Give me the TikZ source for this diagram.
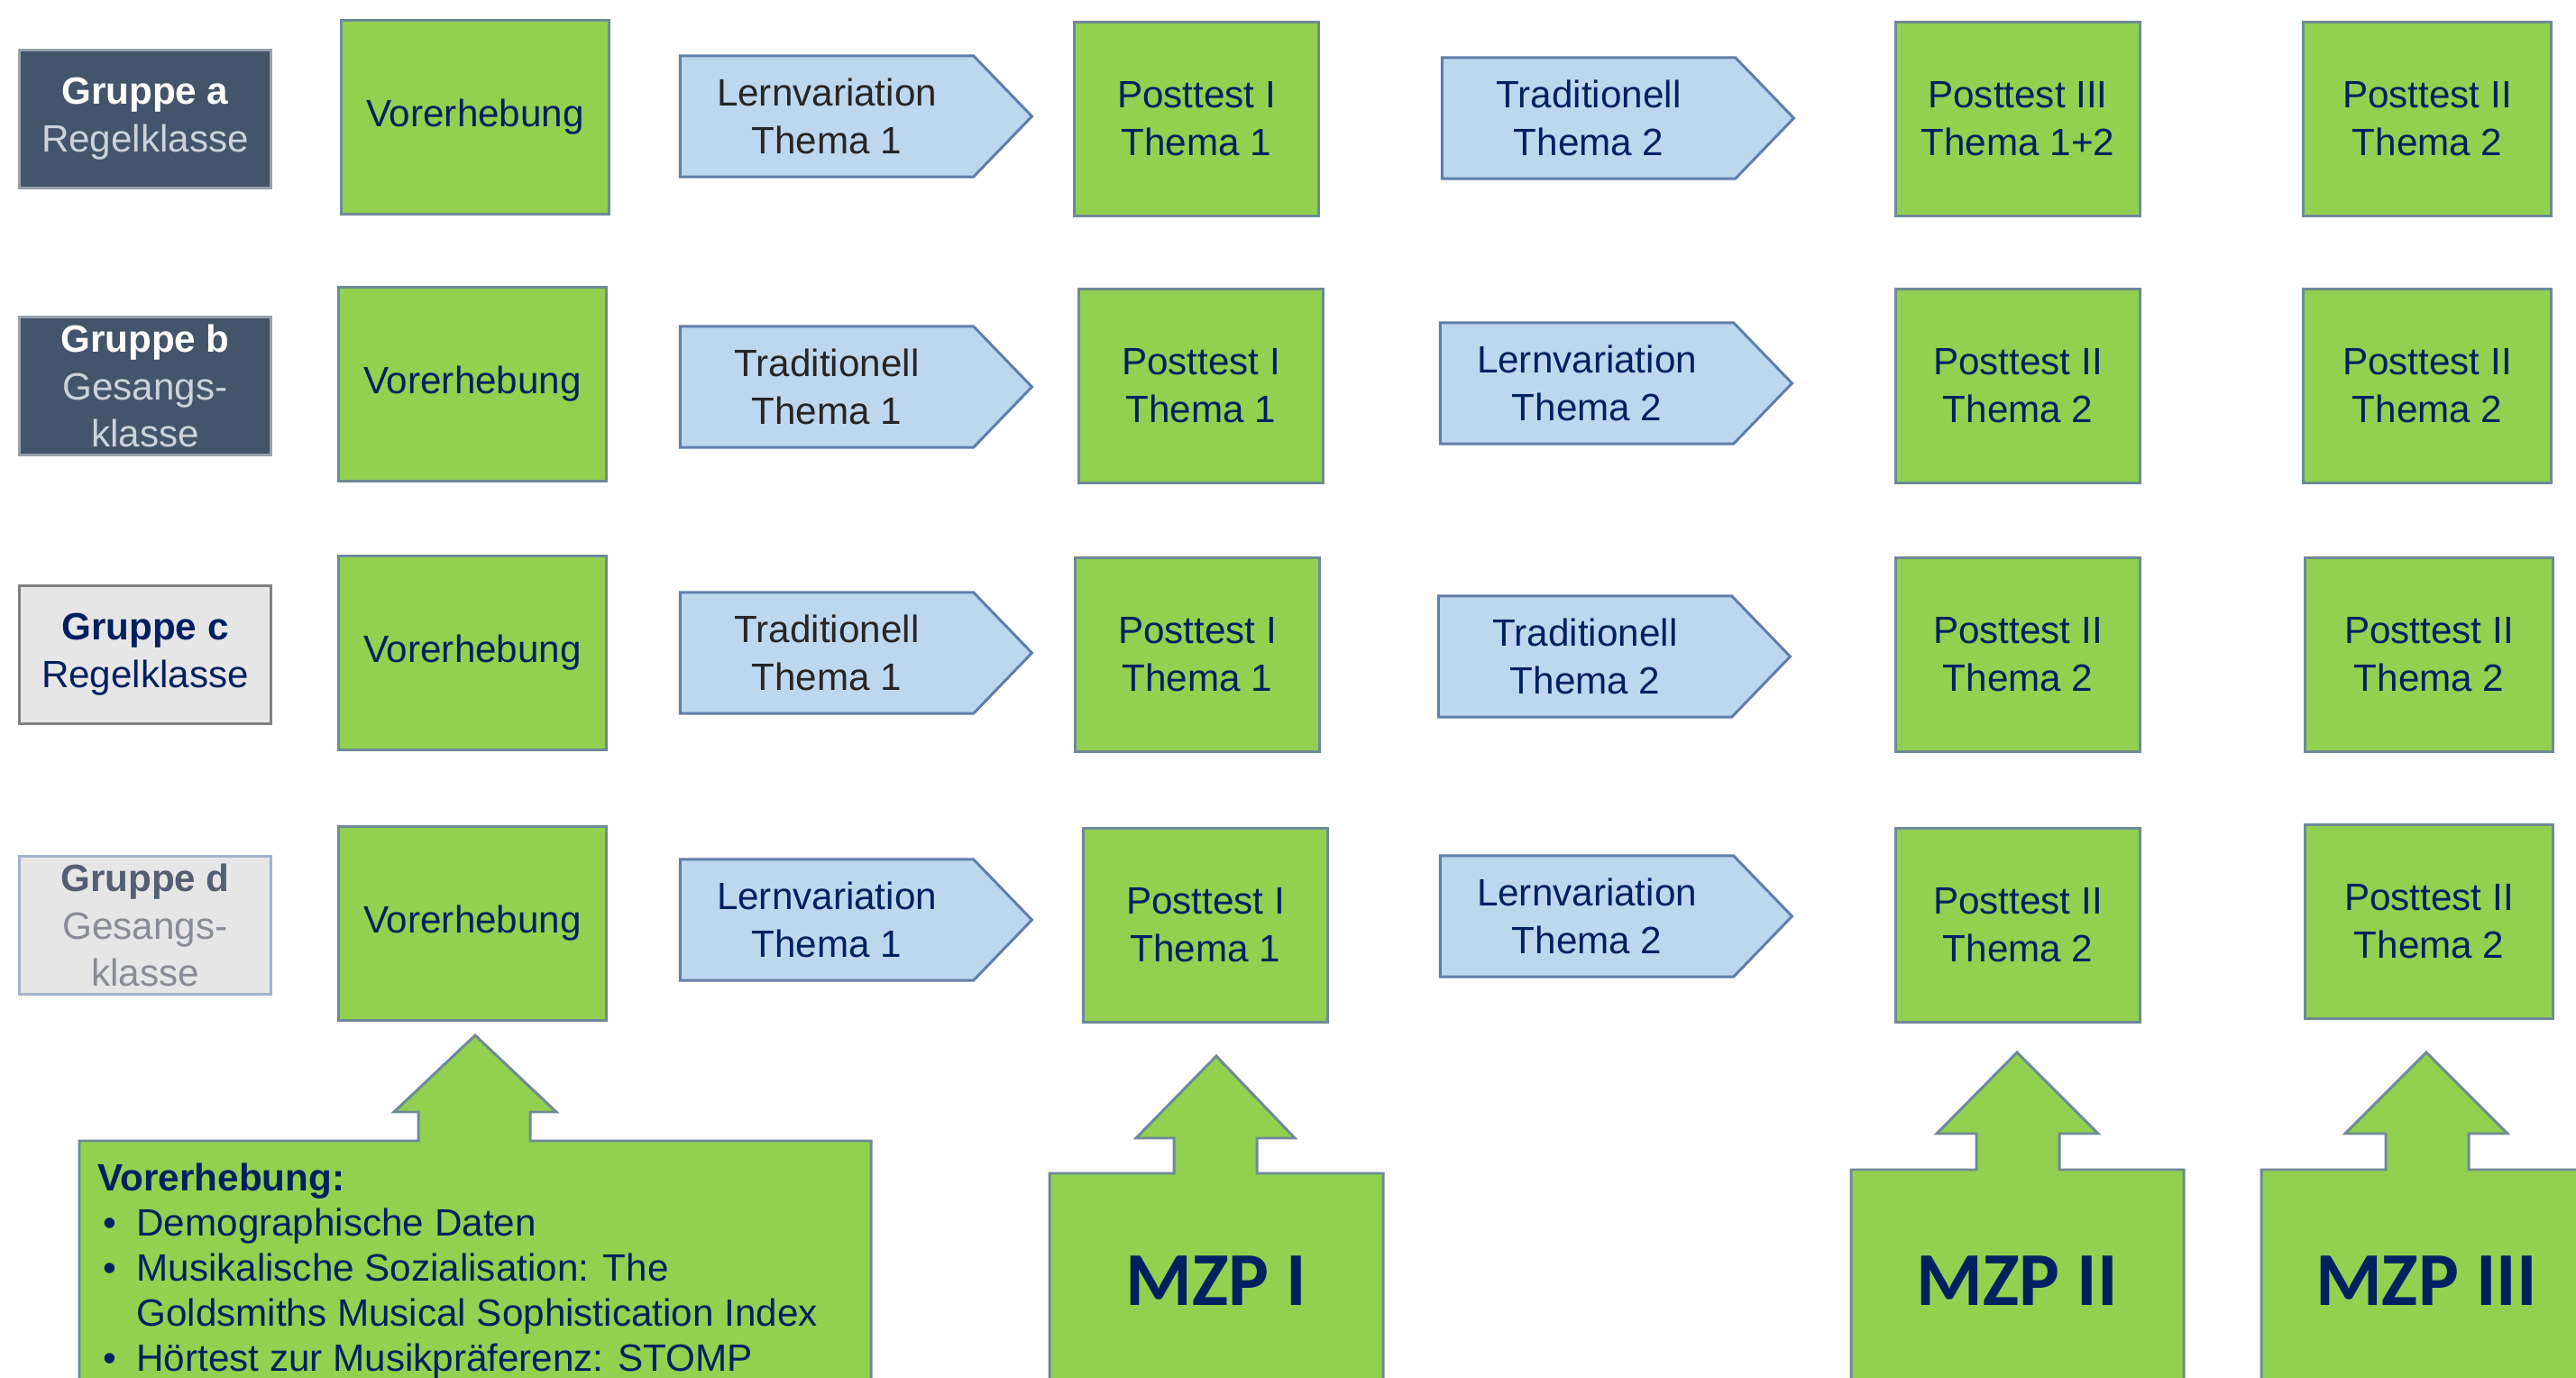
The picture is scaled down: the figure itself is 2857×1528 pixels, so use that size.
\documentclass[tikz,border=0pt]{standalone}
\usepackage{fontspec}
\setmainfont{Liberation Sans}
\newfontfamily\mzpfont{Carlito}
\usetikzlibrary{shapes.symbols}
\definecolor{navy}{RGB}{0,32,96}
\definecolor{slate}{RGB}{68,84,106}
\definecolor{paper}{RGB}{231,230,230}
\definecolor{leaf}{RGB}{146,208,80}
\definecolor{leafline}{RGB}{110,138,150}
\definecolor{sky}{RGB}{189,215,238}
\definecolor{skyline}{RGB}{96,126,170}
\definecolor{fog}{RGB}{205,210,218}
\definecolor{ash}{RGB}{85,95,115}
\definecolor{ashlight}{RGB}{135,140,150}

\begin{document}
\begin{tikzpicture}[x=0.01cm,y=-0.01cm,
	  every node/.style={font=\fontsize{12}{15}\selectfont,align=center,inner sep=0pt},
	  group/.style={draw,line width=0.8pt,minimum width=2.79cm,minimum height=1.53cm},
	  darkgroup/.style={group,fill=slate,draw=slate!55!white,text=white},
	  lightgroup/.style={group,fill=paper,draw=gray,text=navy},
	  test/.style={draw=leafline,line width=0.85pt,fill=leaf,text=navy,minimum height=2.14cm},
	  lesson/.style={shape=signal,signal to=east,signal pointer angle=92,draw=skyline,
	    line width=0.85pt,fill=sky,text=navy,minimum width=3.9cm,minimum height=1.34cm},
	  callout/.style={draw=leafline,line width=0.85pt,fill=leaf},
	  mzp/.style={font=\mzpfont\bfseries\fontsize{24}{28}\selectfont,text=navy}]
	  \useasboundingbox (0,0) rectangle (2857,1528);
	  \clip (0,0) rectangle (2857,1528);
	  % groups
	  \node at (161,132) (ga) [darkgroup]{\textbf{Gruppe a}\\{\color{fog}Regelklasse}};
	  \node at (161,428) (gb) [darkgroup]{\textbf{Gruppe b}\\{\color{fog}Gesangs-}\\{\color{fog}klasse}};
	  \node at (161,726) (gc) [lightgroup]{\textbf{Gruppe c}\\Regelklasse};
	  \node at (161,1026) (gd) [lightgroup,draw=skyline!60]{{\color{ash}\textbf{Gruppe d}}\\{\color{ashlight}Gesangs-}\\{\color{ashlight}klasse}};
	  % Vorerhebung
	  \node at (527,130) (va) [test,minimum width=2.97cm]{Vorerhebung};
	  \node at (524,426) (vb) [test,minimum width=2.97cm]{Vorerhebung};
	  \node at (524,724) (vc) [test,minimum width=2.97cm]{Vorerhebung};
	  \node at (524,1024) (vd) [test,minimum width=2.97cm]{Vorerhebung};
	  % first lesson
	  \node at (917,129) (la1) [lesson,text=black!85]{Lernvariation\\Thema 1};
	  \node at (917,429) (lb1) [lesson,text=black!85]{Traditionell\\Thema 1};
	  \node at (917,724) (lc1) [lesson,text=black!85]{Traditionell\\Thema 1};
	  \node at (917,1020) (ld1) [lesson]{Lernvariation\\Thema 1};
	  % Posttest I
	  \node at (1327,132) (pa1) [test,minimum width=2.7cm]{Posttest I\\Thema 1};
	  \node at (1332,428) (pb1) [test,minimum width=2.7cm]{Posttest I\\Thema 1};
	  \node at (1328,726) (pc1) [test,minimum width=2.7cm]{Posttest I\\Thema 1};
	  \node at (1337,1026) (pd1) [test,minimum width=2.7cm]{Posttest I\\Thema 1};
	  % second lesson
	  \node at (1762,131) (la2) [lesson]{Traditionell\\Thema 2};
	  \node at (1760,425) (lb2) [lesson]{Lernvariation\\Thema 2};
	  \node at (1758,728) (lc2) [lesson]{Traditionell\\Thema 2};
	  \node at (1760,1016) (ld2) [lesson]{Lernvariation\\Thema 2};
	  % Posttest II / III
	  \node at (2238,132) (pa2) [test,minimum width=2.7cm]{Posttest III\\Thema 1+2};
	  \node at (2238,428) (pb2) [test,minimum width=2.7cm]{Posttest II\\Thema 2};
	  \node at (2238,726) (pc2) [test,minimum width=2.7cm]{Posttest II\\Thema 2};
	  \node at (2238,1026) (pd2) [test,minimum width=2.7cm]{Posttest II\\Thema 2};
	  \node at (2692,132) (pa3) [test,minimum width=2.74cm]{Posttest II\\Thema 2};
	  \node at (2692,428) (pb3) [test,minimum width=2.74cm]{Posttest II\\Thema 2};
	  \node at (2694,726) (pc3) [test,minimum width=2.74cm]{Posttest II\\Thema 2};
	  \node at (2694,1022) (pd3) [test,minimum width=2.74cm]{Posttest II\\Thema 2};
	  % callouts
	  \filldraw[callout] (88,1600) |- (464,1265) |- (437,1233) -- (527,1148) -- (617,1233) -| (588,1265) -| (966,1600) -- cycle;
	  \filldraw[callout] (1164,1600) |- (1302,1301) |- (1260,1262) -- (1349,1171) -- (1436,1262) -| (1394,1301) -| (1534,1600) -- cycle;
	  \filldraw[callout] (2053,1600) |- (2192,1297) |- (2148,1257) -- (2237,1167) -- (2327,1257) -| (2284,1297) -| (2422,1600) -- cycle;
	  \filldraw[callout] (2508,1600) |- (2646,1297) |- (2601,1257) -- (2691,1167) -- (2781,1257) -| (2738,1297) -| (2874,1600) -- cycle;
	  \node at (108,1285) (vinfo) [anchor=north west,align=left,text=navy,font=\fontsize{12}{14.2}\selectfont]{%
	    \begin{tabular}{@{\hspace{0.06cm}}l@{\hspace{0.22cm}}l@{}}
	    \multicolumn{2}{@{}l@{}}{\textbf{Vorerhebung:}}\\
	    \textbullet & Demographische Daten\\
	    \textbullet & Musikalische Sozialisation: The\\
	     & Goldsmiths Musical Sophistication Index\\
	    \textbullet & Hörtest zur Musikpräferenz: STOMP
	    \end{tabular}};
	  \node at (1349,1420) (mzp1) [mzp]{MZP I};
	  \node at (2237,1420) (mzp2) [mzp]{MZP II};
	  \node at (2691,1420) (mzp3) [mzp]{MZP III};
	\end{tikzpicture}
\end{document}
